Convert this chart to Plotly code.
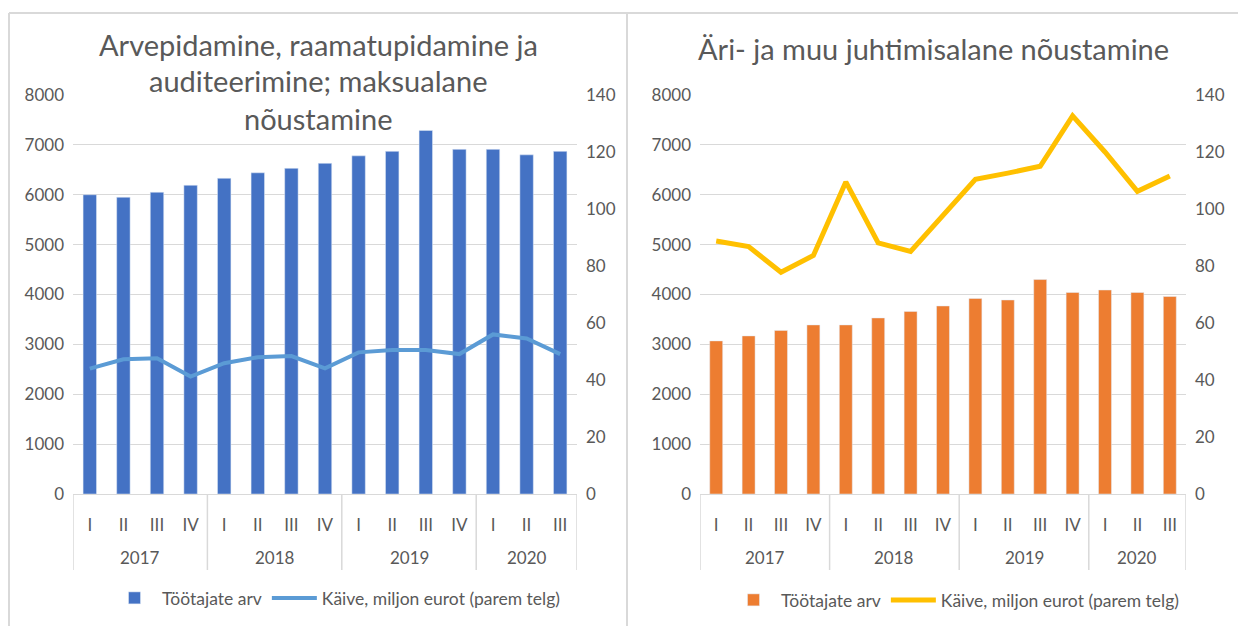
import plotly.graph_objects as go
from plotly.subplots import make_subplots

# ---- data ----
years = ["2017"] * 4 + ["2018"] * 4 + ["2019"] * 4 + ["2020"] * 3
quarters = ["I", "II", "III", "IV"] * 3 + ["I", "II", "III"]

left_title = ["Arvepidamine, raamatupidamine ja", "auditeerimine; maksualane", "nõustamine"]
right_title = "Äri- ja muu juhtimisalane nõustamine"
bar_name = "Töötajate arv"
line_name = "Käive, miljon eurot (parem telg)"

left_employees = [6000, 5950, 6050, 6190, 6330, 6440, 6530, 6630, 6780, 6870, 7290, 6910, 6910, 6800, 6870]
left_turnover = [44.0, 47.3, 47.6, 41.2, 45.9, 48.0, 48.4, 44.1, 49.7, 50.5, 50.5, 49.1, 56.0, 54.6, 49.1]
right_employees = [3070, 3170, 3280, 3390, 3390, 3530, 3660, 3770, 3920, 3890, 4300, 4040, 4090, 4040, 3960]
right_turnover = [88.8, 86.8, 77.8, 83.7, 109.5, 88.1, 85.1, 97.7, 110.4, 112.6, 115.0, 132.7, 120.0, 106.2, 111.6]

W, H = 1238, 626
FONT = "Lato"
TXT = "#595959"
GRID = "#D9D9D9"

categories = [f"{y} {q}" for y, q in zip(years, quarters)]

# group info (year -> index range) derived from the data lists
groups = []
for i, y in enumerate(years):
    if not groups or groups[-1][0] != y:
        groups.append([y, i, i])
    else:
        groups[-1][2] = i

fig = make_subplots(rows=1, cols=2, specs=[[{"secondary_y": True}, {"secondary_y": True}]])

fig.add_trace(go.Bar(x=categories, y=left_employees, name=bar_name, marker_color="#4472C4",
                     legend="legend"), row=1, col=1, secondary_y=False)
fig.add_trace(go.Scatter(x=categories, y=left_turnover, name=line_name, mode="lines",
                         line=dict(color="#5B9BD5", width=4), legend="legend"),
              row=1, col=1, secondary_y=True)
fig.add_trace(go.Bar(x=categories, y=right_employees, name=bar_name, marker_color="#ED7D31",
                     legend="legend2"), row=1, col=2, secondary_y=False)
fig.add_trace(go.Scatter(x=categories, y=right_turnover, name=line_name, mode="lines",
                         line=dict(color="#FFC000", width=5), legend="legend2"),
              row=1, col=2, secondary_y=True)

def px_x(v):
    return v / W

def px_y(v):
    return 1 - v / H

ydom = [px_y(494), px_y(95)]
fig.update_layout(
    width=W, height=H,
    margin=dict(l=0, r=0, t=0, b=0, autoexpand=False),
    paper_bgcolor="white", plot_bgcolor="white",
    font=dict(family=FONT, color=TXT, size=17),
    bargap=0.6,
    xaxis=dict(domain=[px_x(73), px_x(577)]),
    xaxis2=dict(domain=[px_x(700), px_x(1186)]),
    legend=dict(orientation="h", x=px_x(336), xanchor="center", y=px_y(598), yanchor="middle",
                font=dict(size=17.5, color=TXT), itemwidth=45, traceorder="normal"),
    legend2=dict(orientation="h", x=px_x(955), xanchor="center", y=px_y(600), yanchor="middle",
                 font=dict(size=17.5, color=TXT), itemwidth=45, traceorder="normal"),
)

for c in (1, 2):
    fig.update_xaxes(type="category", categoryorder="array", categoryarray=categories,
                     range=[-0.5, len(categories) - 0.5],
                     tickmode="array", tickvals=categories, ticktext=quarters,
                     showline=True, linecolor=GRID, linewidth=1, automargin=False,
                     tickfont=dict(size=17, color=TXT), showgrid=False, ticks="",
                     ticklabelstandoff=16, tickangle=0,
                     row=1, col=c)
    fig.update_yaxes(range=[0, 8000], dtick=1000, showgrid=True, gridcolor=GRID, gridwidth=1,
                     zeroline=False, tickfont=dict(size=17, color=TXT), ticklabelstandoff=8,
                     automargin=False, row=1, col=c, secondary_y=False)
    fig.update_yaxes(range=[0, 140], dtick=20, showgrid=False, zeroline=False,
                     tickfont=dict(size=17, color=TXT), ticklabelstandoff=8,
                     automargin=False, row=1, col=c, secondary_y=True)

fig.update_layout(yaxis=dict(domain=ydom), yaxis2=dict(domain=ydom),
                  yaxis3=dict(domain=ydom), yaxis4=dict(domain=ydom))

# year group labels and dividers
for xref in ("x", "x2"):
    for y, a, b in groups:
        fig.add_annotation(text=y, x=(a + b) / 2, y=px_y(557), xref=xref, yref="paper",
                           showarrow=False, xanchor="center", yanchor="middle",
                           font=dict(size=17, color=TXT, family=FONT))
    edges = [g[1] - 0.5 for g in groups] + [groups[-1][2] + 0.5]
    for e in edges:
        fig.add_shape(type="line", xref=xref, yref="paper", x0=e, x1=e,
                      y0=px_y(570), y1=px_y(494), line=dict(color=GRID, width=1.5))

# titles
for t, yy in zip(left_title, [44, 81, 119]):
    fig.add_annotation(text=t, x=px_x(318), y=px_y(yy), xref="paper", yref="paper",
                       showarrow=False, xanchor="center", yanchor="middle",
                       font=dict(size=29, color=TXT, family=FONT))
fig.add_annotation(text=right_title, x=px_x(934), y=px_y(49), xref="paper", yref="paper",
                   showarrow=False, xanchor="center", yanchor="middle",
                   font=dict(size=29, color=TXT, family=FONT))

# frame lines
border = dict(color=GRID, width=2)
fig.add_shape(type="line", xref="paper", yref="paper", x0=px_x(9), x1=1, y0=px_y(13), y1=px_y(13), line=border)
fig.add_shape(type="line", xref="paper", yref="paper", x0=px_x(9), x1=px_x(9), y0=0, y1=px_y(13), line=border)
fig.add_shape(type="line", xref="paper", yref="paper", x0=px_x(627), x1=px_x(627), y0=0, y1=px_y(13), line=border)

fig.write_html("out.html", config={"displayModeBar": False},
               post_script="document.body.style.margin='0';document.body.style.overflow='hidden';")
